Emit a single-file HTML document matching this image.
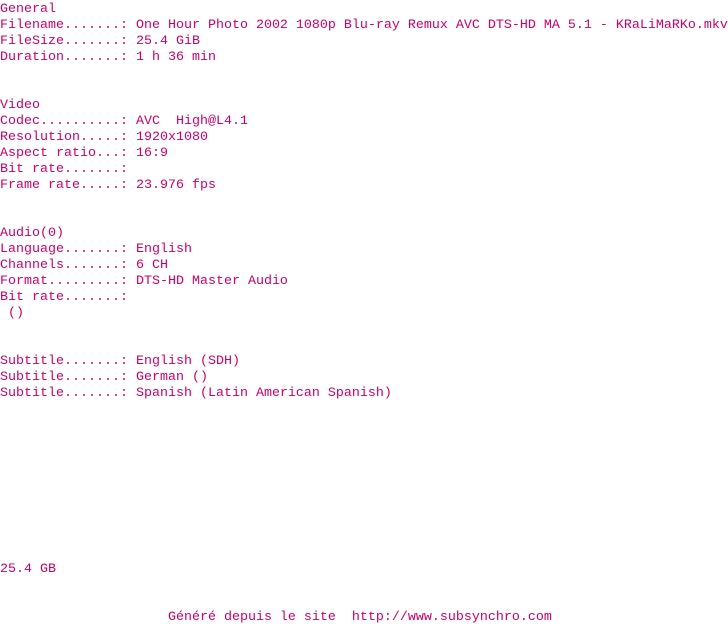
<!DOCTYPE html>
<html><head><style>
html,body{margin:0;padding:0;background:#fff;width:728px;height:624px;overflow:hidden}
pre{margin:0;padding-top:2px;font-family:"Liberation Mono",monospace;font-size:13.33px;line-height:16px;color:#cc0066;white-space:pre}
</style></head><body><pre>General
Filename.......: One Hour Photo 2002 1080p Blu-ray Remux AVC DTS-HD MA 5.1 - KRaLiMaRKo.mkv
FileSize.......: 25.4 GiB
Duration.......: 1 h 36 min


Video
Codec..........: AVC  High@L4.1
Resolution.....: 1920x1080
Aspect ratio...: 16:9
Bit rate.......: 
Frame rate.....: 23.976 fps


Audio(0)
Language.......: English
Channels.......: 6 CH
Format.........: DTS-HD Master Audio
Bit rate.......: 
 ()


Subtitle.......: English (SDH)
Subtitle.......: German ()
Subtitle.......: Spanish (Latin American Spanish)










25.4 GB


                     Généré depuis le site  http://www.subsynchro.com</pre></body></html>
